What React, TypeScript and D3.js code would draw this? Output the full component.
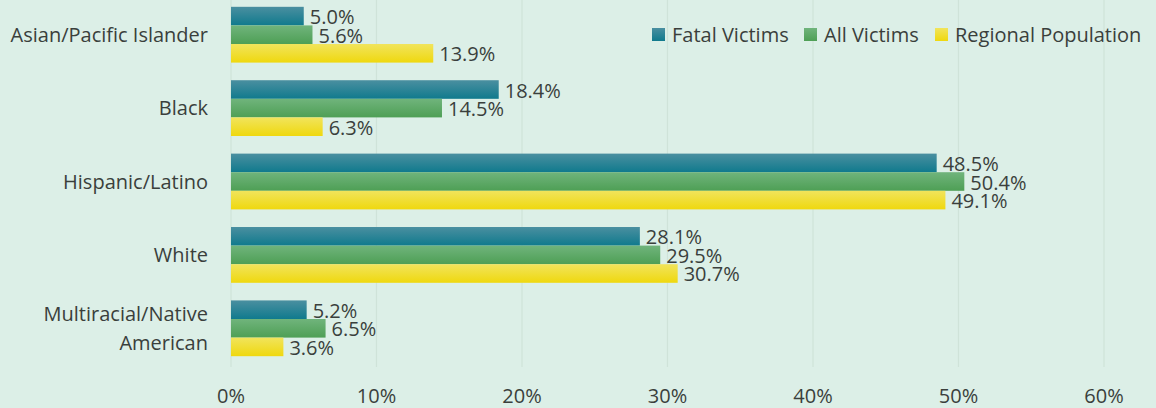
import React from "react";
import * as d3 from "d3";

const categories = ["Asian/Pacific Islander", "Black", "Hispanic/Latino", "White", "Multiracial/Native American"];
const categoryLines = [["Asian/Pacific Islander"], ["Black"], ["Hispanic/Latino"], ["White"], ["Multiracial/Native", "American"]];
const seriesNames = ["Fatal Victims", "All Victims", "Regional Population"];
const fatalVictims = [5.0, 18.4, 48.5, 28.1, 5.2];
const allVictims = [5.6, 14.5, 50.4, 29.5, 6.5];
const regionalPopulation = [13.9, 6.3, 49.1, 30.7, 3.6];
const xTicks = [0, 10, 20, 30, 40, 50, 60];

const seriesValues = [fatalVictims, allVictims, regionalPopulation];
const gradients = [
  ["#4a8fa0", "#107a8d"],
  ["#70b47c", "#4e9f55"],
  ["#f1e45c", "#efd80e"],
];

export default function App() {
  const W = 1156, H = 408;
  const x = d3.scaleLinear().domain([0, 60]).range([231, 1104]);
  const y = d3.scaleBand().domain(categories).range([-2, 365]).paddingInner(0.24).paddingOuter(0.12);
  const inner = d3.scaleBand().domain(seriesNames).range([0, y.bandwidth()]).padding(0);
  const font = "'Open Sans', 'Noto Sans', sans-serif";
  const fs = 20;
  return (
    <svg width={W} height={H} style={{ position: "absolute", left: 0, top: 0, display: "block" }}>
      <defs>
        {gradients.map((g, i) => (
          <linearGradient key={i} id={`g${i}`} x1="0" y1="0" x2="0" y2="1">
            <stop offset="0" stopColor={g[0]} />
            <stop offset="1" stopColor={g[1]} />
          </linearGradient>
        ))}
      </defs>
      <rect x={0} y={0} width={W} height={H} fill="#dcefe7" />
      {xTicks.map((t) => (
        <line key={t} x1={x(t)} x2={x(t)} y1={0} y2={367} stroke="#cfe3d9" strokeWidth={1.2} />
      ))}
      {xTicks.map((t) => (
        <text key={t} x={x(t)} y={403} textAnchor="middle" fontFamily={font} fontSize={fs} fill="#3a3f3c">{t}%</text>
      ))}
      {categories.map((c, ci) => {
        const lines = categoryLines[ci];
        const cy = (y(c) as number) + y.bandwidth() / 2;
        return (
          <text key={c} x={208} textAnchor="end" fontFamily={font} fontSize={fs} fill="#3a3f3c">
            {lines.map((l, li) => (
              <tspan key={li} x={208} y={cy + 7 + (li - (lines.length - 1) / 2) * 29}>{l}</tspan>
            ))}
          </text>
        );
      })}
      {seriesNames.map((s, si) =>
        categories.map((c, ci) => {
          const v = seriesValues[si][ci];
          const by = (y(c) as number) + (inner(s) as number);
          const bh = inner.bandwidth();
          return (
            <g key={s + c}>
              <rect x={x(0)} y={by} width={x(v) - x(0)} height={bh} fill={`url(#g${si})`} />
              <text x={x(v) + 6} y={by + bh / 2 + 8} fontFamily={font} fontSize={fs} fill="#3a3f3c">{v.toFixed(1)}%</text>
            </g>
          );
        })
      )}
      {(() => {
        const items = [652, 804, 935];
        return seriesNames.map((s, si) => (
          <g key={s}>
            <rect x={items[si]} y={28} width={13} height={13} fill={`url(#g${si})`} />
            <text x={items[si] + 20} y={42} fontFamily={font} fontSize={fs} fill="#3a3f3c">{s}</text>
          </g>
        ));
      })()}
    </svg>
  );
}
